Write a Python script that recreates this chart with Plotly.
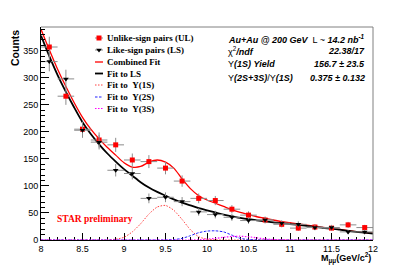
import plotly.graph_objects as go

# ---------------- data ----------------
BIN_CENTERS = [8.1, 8.3, 8.5, 8.7, 8.9, 9.1, 9.3, 9.5, 9.7, 9.9,
               10.1, 10.3, 10.5, 10.7, 10.9, 11.1, 11.3, 11.5, 11.7, 11.9]
BIN_HALF_WIDTH = 0.1

UL_COUNTS = [357, 266, 205, 185, 176, 148, 145, 133, 109, 77,
             73, 57, 46, 37, 29, 22, 24, 22, 28, 23]
UL_ERRORS = [19, 16, 14, 14, 13, 12, 12, 11.5, 10.5, 9,
             8.5, 7.5, 7, 6, 5.5, 5, 5, 4.5, 5.5, 5]

LS_COUNTS = [330, 298, 203, 181, 129, 123, 77, 79, 71, 52,
             47, 42, 36, 37, 31, 29, 23, 23, 15, 15]
LS_ERRORS = [18, 17, 14, 13.5, 11.5, 11, 9, 9, 8.5, 7,
             7, 6.5, 6, 6, 5.5, 5.5, 5, 5, 4, 4]

# fit curves, sampled every 0.1 GeV from 8.0 to 12.0
FIT_X = [round(8.0 + 0.1 * i, 1) for i in range(41)]
LS_FIT = [378, 340, 305, 274, 245, 218, 196, 177, 160, 145,
          131, 119, 107, 97, 89, 82, 75, 69, 64, 59,
          55, 51, 47, 44, 41, 38.5, 36.5, 34.5, 32.5, 31,
          29.5, 28, 26, 24.5, 22.5, 21, 19, 17, 15, 13.5, 12]
COMBINED_FIT = [390, 352, 316, 284, 254, 227, 205, 187, 171, 157,
                143, 135, 136, 144, 148, 144, 133, 113, 95, 82,
                74, 68, 62, 56, 51, 47, 43, 40, 37, 34,
                32, 30, 27.5, 25.5, 23.5, 21.5, 19.5, 17.5, 15.5, 13.5, 12.5]
UPS1S_FIT = ([0, 0, 0, 0, 0, 0, 0, 0, 0.3, 1.5,
              5, 15, 30, 48, 61, 64, 55, 38, 19, 6,
              1.5, 0.3] + [0] * 19)
UPS2S_FIT = ([0] * 15 + [0.3, 0.8, 3, 8, 13.5,
                          16.5, 17, 15, 9, 3, 1, 0.3] + [0] * 14)
UPS3S_FIT = ([0] * 19 + [0.5,
                          1.5, 3, 5, 6.5, 7, 6, 4, 2, 0.8, 0.2] + [0] * 11)

LEGEND_LABELS = ["Unlike-sign pairs (UL)", "Like-sign pairs (LS)", "Combined Fit",
                 "Fit to LS", "Fit to  Υ(1S)", "Fit to  Υ(2S)", "Fit to  Υ(3S)"]

INFO_LABELS = ["<b><i>Au+Au @ 200 GeV</i></b>  L ~ <b><i>14.2 nb<sup>-1</sup></i></b>",
               "χ<sup>2</sup><b><i>/ndf</i></b>",
               "Υ<b><i>(1S) Yield</i></b>",
               "Υ<b><i>(2S+3S)</i></b>/Υ<b><i>(1S)</i></b>"]
INFO_VALUES = ["", "22.38/17", "156.7 ± 23.5", "0.375 ± 0.132"]

# ---------------- layout geometry ----------------
W, H = 414, 267
ML, MR, MT, MB = 41, 41, 27, 27
PW, PH = W - ML - MR, H - MT - MB


def pxx(x):  # pixel x -> paper
    return (x - ML) / PW


def pxy(y):  # pixel y -> paper
    return (H - MB - y) / PH


RED = "#ff0000"
ERRC = "#8c8c8c"
SANS = "Liberation Sans, Arial, sans-serif"
SERIF = "Liberation Serif, Times New Roman, serif"
DOT = "1.5px,1.5px"

fig = go.Figure()

# fit curves
fig.add_trace(go.Scatter(x=FIT_X, y=COMBINED_FIT, mode="lines",
                         line=dict(color=RED, width=1.3, shape="spline", smoothing=0.8),
                         showlegend=False))
fig.add_trace(go.Scatter(x=FIT_X, y=LS_FIT, mode="lines",
                         line=dict(color="black", width=1.8, shape="spline", smoothing=0.8),
                         showlegend=False))
fig.add_trace(go.Scatter(x=FIT_X, y=UPS1S_FIT, mode="lines",
                         line=dict(color="#ff4040", width=1, dash=DOT, shape="spline", smoothing=0.6),
                         showlegend=False))
fig.add_trace(go.Scatter(x=FIT_X, y=UPS2S_FIT, mode="lines",
                         line=dict(color="#2020ff", width=1, dash="2.5px,1.5px", shape="spline", smoothing=0.6),
                         showlegend=False))
fig.add_trace(go.Scatter(x=FIT_X, y=UPS3S_FIT, mode="lines",
                         line=dict(color="#ff00ff", width=1.2, dash=DOT, shape="spline", smoothing=0.6),
                         showlegend=False))

# data points
fig.add_trace(go.Scatter(x=BIN_CENTERS, y=UL_COUNTS, mode="markers",
                         marker=dict(symbol="square", size=5, color=RED),
                         error_y=dict(type="data", array=UL_ERRORS, color=ERRC, thickness=1, width=0),
                         error_x=dict(type="constant", value=BIN_HALF_WIDTH, color=ERRC, thickness=1, width=0),
                         showlegend=False))
fig.add_trace(go.Scatter(x=BIN_CENTERS, y=LS_COUNTS, mode="markers",
                         marker=dict(symbol="triangle-down", size=5, color="black"),
                         error_y=dict(type="data", array=LS_ERRORS, color=ERRC, thickness=1, width=0),
                         error_x=dict(type="constant", value=BIN_HALF_WIDTH, color=ERRC, thickness=1, width=0),
                         showlegend=False))

# ---------------- hand-made legend (ROOT style, tight rows) ----------------
row_y = [38, 50, 62, 73.5, 85, 97, 108.5]
glyph_styles = [
    dict(color=ERRC, width=1),
    dict(color=ERRC, width=1),
    dict(color=RED, width=1.3),
    dict(color="black", width=1.8),
    dict(color="#ff4040", width=1, dash=DOT),
    dict(color="#2020ff", width=1, dash="2.5px,1.5px"),
    dict(color="#ff00ff", width=1.2, dash=DOT),
]
for yy, st in zip(row_y, glyph_styles):
    fig.add_trace(go.Scatter(x=[pxx(95), pxx(103)], y=[pxy(yy), pxy(yy)], mode="lines",
                             line=st, xaxis="x2", yaxis="y2", showlegend=False, hoverinfo="skip"))
fig.add_trace(go.Scatter(x=[pxx(99)], y=[pxy(row_y[0])], mode="markers",
                         marker=dict(symbol="square", size=5, color=RED),
                         xaxis="x2", yaxis="y2", showlegend=False, hoverinfo="skip"))
fig.add_trace(go.Scatter(x=[pxx(99)], y=[pxy(row_y[1])], mode="markers",
                         marker=dict(symbol="triangle-down", size=5, color="black"),
                         xaxis="x2", yaxis="y2", showlegend=False, hoverinfo="skip"))

annotations = []
for yy, lab in zip(row_y, LEGEND_LABELS):
    annotations.append(dict(x=pxx(104.5), y=pxy(yy), xref="paper", yref="paper",
                            text="<b>%s</b>" % lab, showarrow=False, xanchor="left",
                            yanchor="middle", font=dict(family=SERIF, size=9, color="black")))

info_y = [38.5, 51, 64, 77.5]
for yy, lab, val in zip(info_y, INFO_LABELS, INFO_VALUES):
    annotations.append(dict(x=pxx(226), y=pxy(yy), xref="paper", yref="paper", text=lab,
                            showarrow=False, xanchor="left", yanchor="middle",
                            font=dict(family=SANS, size=9, color="black")))
    if val:
        annotations.append(dict(x=pxx(366.5), y=pxy(yy), xref="paper", yref="paper",
                                text="<b><i>%s</i></b>" % val, showarrow=False,
                                xanchor="right", yanchor="middle",
                                font=dict(family=SANS, size=9, color="black")))

annotations.append(dict(x=pxx(55), y=pxy(219), xref="paper", yref="paper",
                        text="<b>STAR preliminary</b>", showarrow=False, xanchor="left",
                        yanchor="middle", font=dict(family=SERIF, size=9.5, color=RED)))
annotations.append(dict(x=pxx(15), y=pxy(48), xref="paper", yref="paper",
                        text="<b>Counts</b>", textangle=-90, showarrow=False,
                        xanchor="center", yanchor="middle",
                        font=dict(family=SANS, size=10.5, color="black")))
annotations.append(dict(x=1.0, y=pxy(258), xref="paper", yref="paper",
                        text="<b>M<sub>μμ</sub>(GeV/c<sup>2</sup>)</b>", showarrow=False,
                        xanchor="right", yanchor="middle",
                        font=dict(family=SANS, size=9, color="black")))

fig.update_layout(
    width=W, height=H,
    margin=dict(l=ML, r=MR, t=MT, b=MB, pad=0),
    paper_bgcolor="white", plot_bgcolor="white",
    showlegend=False,
    annotations=annotations,
    shapes=[
        dict(type="line", xref="paper", yref="paper", x0=0, x1=1, y0=1, y1=1,
             line=dict(color="#808080", width=1)),
        dict(type="line", xref="paper", yref="paper", x0=1, x1=1, y0=0, y1=1,
             line=dict(color="#808080", width=1)),
    ],
    xaxis=dict(range=[8, 12], showgrid=False, zeroline=False, showline=True,
               linecolor="black", linewidth=1, ticks="inside", ticklen=7,
               tickcolor="black", dtick=0.5, tick0=8, layer="below traces",
               tickfont=dict(family=SANS, size=9, color="black"),
               tickformat="~g",
               minor=dict(dtick=0.1, ticks="inside", ticklen=3, tickcolor="black")),
    yaxis=dict(range=[0, 394], showgrid=False, zeroline=False, showline=True,
               linecolor="black", linewidth=1, ticks="inside", ticklen=8,
               tickcolor="black", dtick=50, tick0=0,
               tickfont=dict(family=SANS, size=9, color="black"),
               minor=dict(dtick=10, ticks="inside", ticklen=4, tickcolor="black")),
    xaxis2=dict(overlaying="x", range=[0, 1], visible=False),
    yaxis2=dict(overlaying="y", range=[0, 1], visible=False),
)

fig.write_html("out.html", config={"displayModeBar": False},
               post_script="document.body.style.margin='0';document.body.style.padding='0';")
